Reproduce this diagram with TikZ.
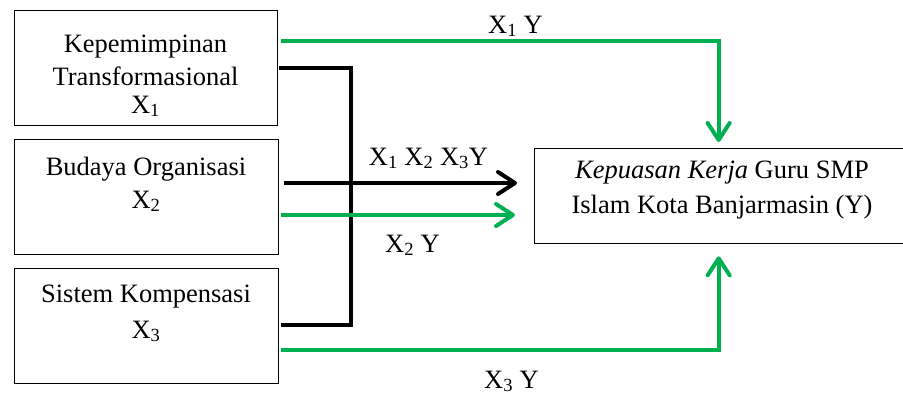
\documentclass[tikz,border=0pt]{standalone}
\usepackage{fontspec}
\setmainfont{Liberation Serif}
\usetikzlibrary{arrows.meta}
\definecolor{xgreen}{RGB}{0,176,80}
\begin{document}
\begin{tikzpicture}[x=1pt,y=-1pt,
  box/.style={draw, line width=1.3pt, inner sep=0pt, anchor=north west},
  txt/.style={font=\fontsize{26.5}{32}\selectfont, anchor=base, inner sep=0pt},
  conn/.style={line width=4pt},
  gconn/.style={conn, draw=xgreen},
  tip/.style={-{Straight Barb[length=17pt,width=22pt,round]}}
]
\useasboundingbox (0,0) rectangle (903,394);

% boxes
\node[box, minimum width=263pt, minimum height=115pt] (b1) at (14,10) {};
\node[box, minimum width=264pt, minimum height=115pt] (b2) at (14,139) {};
\node[box, minimum width=264pt, minimum height=115pt] (b3) at (14,268) {};
\node[box, minimum width=380pt, minimum height=95pt] (y) at (534,148) {};

% texts
\node[txt] (t1a) at (145.5,52) {Kepemimpinan};
\node[txt] (t1b) at (145.5,85) {Transformasional};
\node[txt] (t1c) at (145.5,113) {X\textsubscript{1}};
\node[txt] (t2a) at (146,175) {Budaya Organisasi};
\node[txt] (t2b) at (146,208) {X\textsubscript{2}};
\node[txt] (t3a) at (146,302) {Sistem Kompensasi};
\node[txt] (t3b) at (146,338) {X\textsubscript{3}};
\node[txt] (ya) at (722,178) {\textit{Kepuasan Kerja} Guru SMP};
\node[txt] (yb) at (722,213) {Islam Kota Banjarmasin (Y)};

% labels
\node[txt] (l1) at (515.5,33) {X\textsubscript{1} Y};
\node[txt] (l123) at (428.5,165) {X\textsubscript{1} X\textsubscript{2} X\textsubscript{3}Y};
\node[txt] (l2) at (412.5,252) {X\textsubscript{2} Y};
\node[txt] (l3) at (511.5,388) {X\textsubscript{3} Y};

% start points
\coordinate (g1) at ([shift={(3pt,-31pt)}]b1.north east);
\coordinate (k1) at ([shift={(1pt,-58pt)}]b1.north east);
\coordinate (k2) at ([shift={(5pt,-44pt)}]b2.north east);
\coordinate (g2) at ([shift={(2pt,-76pt)}]b2.north east);
\coordinate (k3) at ([shift={(2pt,-57pt)}]b3.north east);
\coordinate (g3) at ([shift={(2pt,-82pt)}]b3.north east);
\coordinate (bus) at (351,183);
\coordinate (yx) at ([xshift=-6pt]y.north);

% connectors
\draw[gconn,tip,shorten >=6pt] (g1) -| (yx);
\draw[gconn,tip,shorten >=12pt] (g3) -| (yx |- y.south);
\draw[conn] (k1) -| (bus) |- (k3);
\draw[conn,tip,shorten >=17pt] (k2) -- (k2 -| y.west);
\draw[gconn,tip,shorten >=19pt] (g2) -- (g2 -| y.west);
\end{tikzpicture}
\end{document}
